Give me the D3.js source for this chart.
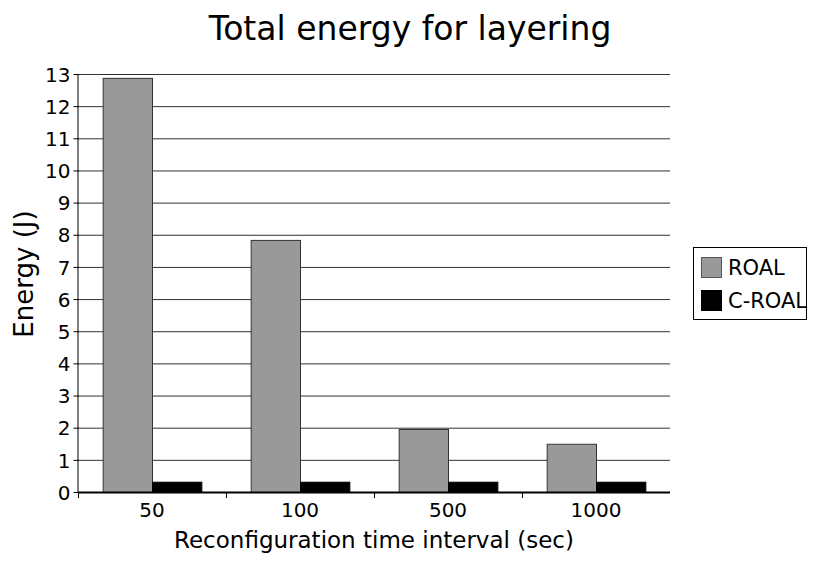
<!DOCTYPE html>
<html><head><meta charset="utf-8">
<script src="https://cdn.jsdelivr.net/npm/d3@7"></script>
<style>body{margin:0;background:#fff}svg{display:block}text{font-family:"DejaVu Sans",sans-serif;fill:#000}</style>
</head><body><svg id="c" width="815" height="563"></svg>
<script>
const categories = ["50","100","500","1000"];
const seriesNames = ["ROAL","C-ROAL"];
const roal = [12.88, 7.84, 1.96, 1.50];
const croal = [0.32, 0.32, 0.32, 0.32];
const yTicks = [0,1,2,3,4,5,6,7,8,9,10,11,12,13];
const colors = ["#999999","#000000"];

const svg = d3.select("#c");
const L=78, R=670, T=74, B=492;
const x = d3.scaleBand().domain(categories).range([L,R]).paddingInner(0).paddingOuter(0);
const xs = d3.scaleBand().domain(seriesNames).range([0,x.bandwidth()]).paddingInner(0).paddingOuter(0.5);
const y = d3.scaleLinear().domain([0,13]).range([B,T]);

// gridlines
svg.append("g").selectAll("line").data(yTicks.filter(d=>d>0)).join("line")
  .attr("x1",L).attr("x2",R).attr("y1",d=>y(d)+0.5).attr("y2",d=>y(d)+0.5)
  .attr("stroke","#333").attr("stroke-width",1);

// bars
const data = categories.map((c,i)=>({c, vals:[roal[i],croal[i]]}));
const g = svg.append("g").selectAll("g").data(data).join("g").attr("transform",d=>`translate(${x(d.c)},0)`);
g.selectAll("rect").data(d=>d.vals.map((v,j)=>({v,s:seriesNames[j],j}))).join("rect")
  .attr("x",d=>xs(d.s)+0.5).attr("width",xs.bandwidth())
  .attr("y",d=>y(d.v)+0.5).attr("height",d=>y(0)-y(d.v))
  .attr("fill",d=>colors[d.j]).attr("stroke",d=>d.j===0?"#333":"#000").attr("stroke-width",1);

// y axis
const ya = svg.append("g").attr("transform",`translate(${L+0.5},0)`)
  .call(d3.axisLeft(y).tickValues(yTicks).tickSize(5).tickPadding(3).tickFormat(d3.format("d")));
ya.select(".domain").attr("stroke","#000").attr("d",`M-0.5,${B}V${T}`);
ya.selectAll(".tick line").attr("stroke","#000");
ya.selectAll("text").attr("font-size","20px").attr("font-family","DejaVu Sans").attr("fill","#000").attr("dy","0.36em");

// x axis
const xa = svg.append("g").attr("transform",`translate(0,${B})`)
  .call(d3.axisBottom(x).tickSize(0).tickPadding(11));
xa.select(".domain").remove();
xa.selectAll("text").attr("font-size","20px").attr("font-family","DejaVu Sans").attr("fill","#000");
svg.append("line").attr("x1",L).attr("x2",R).attr("y1",B+0.5).attr("y2",B+0.5).attr("stroke","#000").attr("stroke-width",2);
svg.append("g").selectAll("line").data(categories).join("line")
  .attr("x1",d=>Math.round(x(d))+0.5).attr("x2",d=>Math.round(x(d))+0.5).attr("y1",B).attr("y2",B+6)
  .attr("stroke","#000");

// titles
svg.append("text").attr("x",410).attr("y",40).attr("text-anchor","middle").attr("font-size","33px").text("Total energy for layering");
svg.append("text").attr("x",(L+R)/2).attr("y",548).attr("text-anchor","middle").attr("font-size","23px").text("Reconfiguration time interval (sec)");
svg.append("text").attr("transform","translate(33,274) rotate(-90)").attr("text-anchor","middle").attr("font-size","26px").text("Energy (J)");

// legend
const lg = svg.append("g");
lg.append("rect").attr("x",693.5).attr("y",247.5).attr("width",113).attr("height",72).attr("fill","#fff").attr("stroke","#000");
seriesNames.forEach((s,i)=>{
  const yy = 257 + i*33;
  lg.append("rect").attr("x",701.5).attr("y",yy+0.5).attr("width",20).attr("height",20).attr("fill",colors[i]).attr("stroke",i===0?"#555":"#000");
  lg.append("text").attr("x",728).attr("y",yy+18).attr("font-size","21px").text(s);
});
</script></body></html>
